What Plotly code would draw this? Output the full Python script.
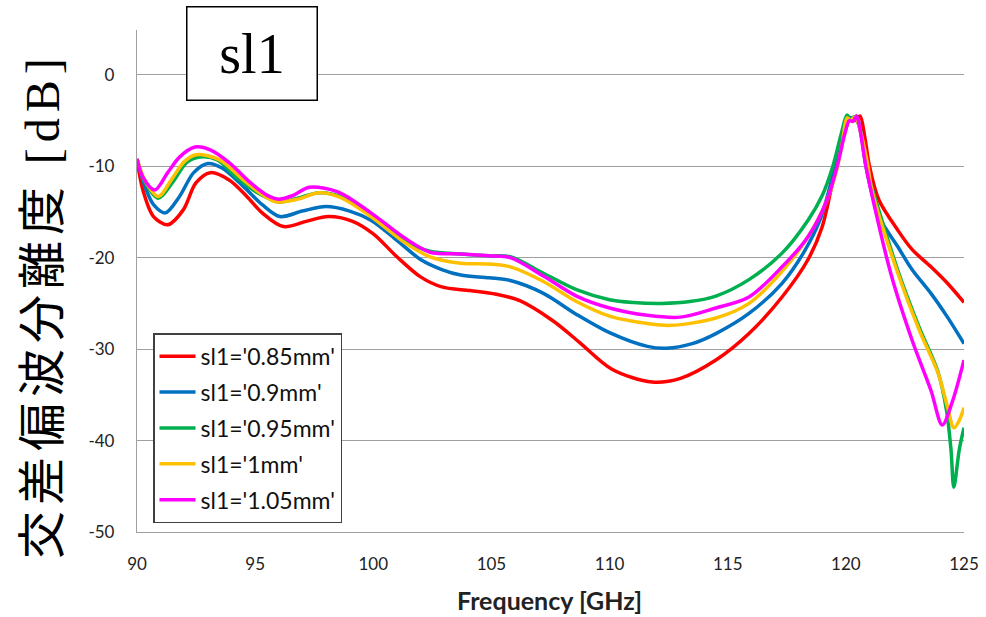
import plotly.graph_objects as go

# ---------------- data ----------------
names = ["sl1='0.85mm'", "sl1='0.9mm'", "sl1='0.95mm'", "sl1='1mm'", "sl1='1.05mm'"]
colors = ["#FF0000", "#0070C0", "#00B050", "#FFC000", "#FF00FF"]

f_red = [90, 90.25, 90.7, 91.3, 91.95, 92.5, 93.1, 93.9, 94.65, 95.3, 96.2, 97.2, 98.1, 99.1, 100.0,
         101.0, 102.0, 102.9, 104.1, 105.2, 106.2, 107.6, 108.7, 110.1, 111.8, 113.0, 114.5, 115.9,
         117.3, 118.4, 119.0, 119.5, 119.9, 120.2, 120.4, 120.6, 120.8, 121.0, 121.4, 122.2, 122.8,
         123.6, 124.3, 125]
v_red = [-9.2, -12.6, -15.5, -16.4, -14.8, -11.8, -10.7, -11.5, -13.3, -15.1, -16.6, -16.0, -15.5, -16.0, -17.4,
         -19.9, -22.1, -23.2, -23.6, -24.0, -24.7, -26.9, -29.2, -32.2, -33.6, -33.2, -31.2, -28.3,
         -24.3, -20.2, -16.6, -11.0, -6.8, -4.7, -5.0, -4.5, -6.8, -10.0, -13.7, -17.0, -19.1,
         -21.0, -22.8, -24.9]

f_blue = [90, 90.35, 90.7, 91.2, 91.8, 92.4, 93.0, 93.6, 94.5, 95.3, 96.05, 97.0, 98.0, 99.0, 99.9,
          101.0, 102.0, 102.9, 103.7, 104.9, 105.8, 107.2, 108.6, 110.0, 111.6, 112.4, 113.5, 114.5,
          115.9, 117.3, 118.2, 118.9, 119.5, 119.9, 120.1, 120.3, 120.45, 120.65, 120.85, 121.4,
          122.2, 122.8, 123.6, 124.3, 125]
v_blue = [-9.2, -12.3, -14.2, -15.1, -13.3, -10.7, -9.7, -10.2, -12.2, -14.2, -15.5, -14.9, -14.4, -14.9, -15.9,
          -18.1, -20.2, -21.3, -21.9, -22.2, -22.5, -23.9, -26.2, -28.2, -29.7, -29.9, -29.4, -28.3,
          -26.1, -22.8, -19.5, -15.9, -10.5, -6.3, -4.6, -5.0, -4.5, -6.5, -10.0, -15.5,
          -18.8, -21.3, -23.9, -26.5, -29.4]

f_green = [90, 90.35, 90.9, 91.5, 92.1, 92.65, 93.4, 94.2, 95.1, 96.0, 96.8, 97.7, 98.6, 99.9,
           101.3, 102.4, 103.7, 104.9, 105.8, 107.2, 108.6, 110.0, 111.0, 112.2, 113.4, 114.5, 115.9, 117.3,
           118.4, 119.0, 119.45, 119.8, 120.05, 120.2, 120.35, 120.55, 120.75, 120.95, 121.1, 122.2,
           123.1, 123.9, 124.26, 124.45, 124.57, 124.8, 125]
v_green = [-9.2, -11.8, -13.5, -11.8, -9.6, -9.0, -9.3, -11.2, -12.9, -13.9, -13.5, -12.9, -13.3, -15.3,
           -18.1, -19.3, -19.6, -19.8, -19.9, -21.7, -23.5, -24.6, -24.9, -25.0, -24.8, -24.2, -22.4, -19.5,
           -15.9, -13.2, -10.0, -6.5, -4.4, -4.9, -4.6, -5.5, -8.0, -11.0, -12.3, -21.4,
           -27.6, -32.5, -36.7, -41.0, -45.1, -41.0, -38.6]

f_yellow = [90, 90.35, 90.9, 91.5, 92.0, 92.5, 93.5, 94.5, 95.3, 95.9, 96.8, 97.7, 98.6, 99.9,
            101.3, 102.4, 103.7, 104.9, 105.8, 107.2, 108.6, 110.0, 111.6, 112.6, 114.5, 115.9,
            117.3, 118.4, 119.2, 119.6, 119.85, 120.05, 120.2, 120.4, 120.6, 120.9, 121.1, 122.2,
            123.1, 123.9, 124.3, 124.57, 124.8, 125]
v_yellow = [-9.2, -11.6, -13.3, -11.3, -9.5, -8.75, -9.3, -11.5, -13.1, -13.9, -13.6, -12.9, -13.4, -15.5,
            -18.3, -19.9, -20.6, -20.7, -21.0, -22.6, -24.8, -26.4, -27.2, -27.4, -26.6, -25.0,
            -21.5, -17.7, -13.7, -10.5, -7.5, -4.7, -5.0, -4.6, -6.0, -9.5, -12.6, -21.7,
            -27.9, -32.6, -36.3, -38.6, -37.8, -36.4]

f_mag = [90, 90.25, 90.75, 91.3, 91.8, 92.45, 93.1, 93.9, 94.8, 95.6, 96.0, 96.6, 97.3, 98.5, 99.9,
         101.3, 102.4, 103.7, 104.9, 105.8, 107.2, 108.6, 110.0, 111.6, 113.0, 114.5, 115.9, 117.3,
         118.4, 119.2, 119.65, 119.95, 120.15, 120.3, 120.45, 120.6, 120.75, 120.9, 121.9, 122.8,
         123.6, 124.08, 124.5, 125]
v_mag = [-9.2, -11.2, -12.6, -10.7, -9.0, -7.9, -8.2, -9.6, -11.8, -13.3, -13.6, -13.2, -12.3, -12.8, -15.1,
         -17.8, -19.4, -19.6, -19.8, -20.0, -22.0, -24.2, -25.5, -26.3, -26.5, -25.5, -24.3, -21.0,
         -17.7, -13.7, -9.8, -6.5, -5.0, -5.1, -4.5, -6.0, -8.5, -10.7, -21.7, -29.0,
         -34.5, -38.3, -35.8, -31.2]

series_f = [f_red, f_blue, f_green, f_yellow, f_mag]
series_v = [v_red, v_blue, v_green, v_yellow, v_mag]

x_ticks = [90, 95, 100, 105, 110, 115, 120, 125]
y_ticks = [0, -10, -20, -30, -40, -50]

x_title = "Frequency [GHz]"
y_title = ("<span style='letter-spacing:6px'>交差偏波分離度 "
           "<span style='font-family:Liberation Serif'>[dB]</span></span>")
box_label = "sl1"

# ---------------- figure ----------------
fig = go.Figure()
for i, (fx, fy) in enumerate(zip(series_f, series_v)):
    fig.add_trace(go.Scatter(
        x=fx, y=fy, mode="lines", name=names[i], legendgroup=str(i),
        line=dict(color=colors[i], width=3.5, shape="spline", smoothing=0.9),
    ))

grid_col = "#A0A0A0"
tick_font = dict(family="Lato, sans-serif", size=17, color="#222222")

L, R, T, B = 137, 22, 30, 85
PW = 986 - L - R

fig.update_layout(
    width=986, height=617,
    margin=dict(l=L, r=R, t=T, b=B, autoexpand=False),
    paper_bgcolor="white", plot_bgcolor="white",
    showlegend=True,
    legend=dict(
        x=(153 - L) / PW, y=0.396, xanchor="left", yanchor="top",
        bgcolor="white", bordercolor="#404040", borderwidth=1.5,
        font=dict(family="Lato, sans-serif", size=23, color="#111111"),
        traceorder="grouped", tracegroupgap=3, itemwidth=36,
    ),
    xaxis=dict(
        range=[90, 125], tickvals=x_ticks, ticktext=[str(t) for t in x_ticks],
        showgrid=False, zeroline=False, showline=True, linecolor=grid_col, linewidth=1.3,
        ticks="", tickfont=tick_font, ticklabelstandoff=16, automargin=False,
    ),
    yaxis=dict(
        range=[-50, 4.9], tickvals=y_ticks, ticktext=[str(t) for t in y_ticks],
        showgrid=True, gridcolor=grid_col, gridwidth=1.3, zeroline=False,
        showline=True, linecolor=grid_col, linewidth=1.3,
        ticks="", tickfont=tick_font, ticklabelstandoff=18, automargin=False,
    ),
)

fig.add_annotation(
    text=box_label, xref="paper", yref="paper", x=(252 - L) / PW, y=0.953,
    xanchor="center", yanchor="middle", showarrow=False,
    font=dict(family="Liberation Serif, serif", size=56, color="black"),
    bordercolor="black", borderwidth=1.5, borderpad=0, bgcolor="white",
    width=129, height=92,
)
fig.add_annotation(
    text=y_title, xref="paper", yref="paper", x=(38 - L) / PW, y=0.45,
    xanchor="center", yanchor="middle", showarrow=False, textangle=-90,
    font=dict(family="Noto Sans CJK JP, sans-serif", size=48, color="black"),
)
fig.add_annotation(
    text="<b>" + x_title + "</b>", xref="paper", yref="paper", x=(549.5 - L) / PW, y=-0.1355,
    xanchor="center", yanchor="middle", showarrow=False,
    font=dict(family="Lato, sans-serif", size=25, color="#222222"),
)

fig.write_html("out.html")
